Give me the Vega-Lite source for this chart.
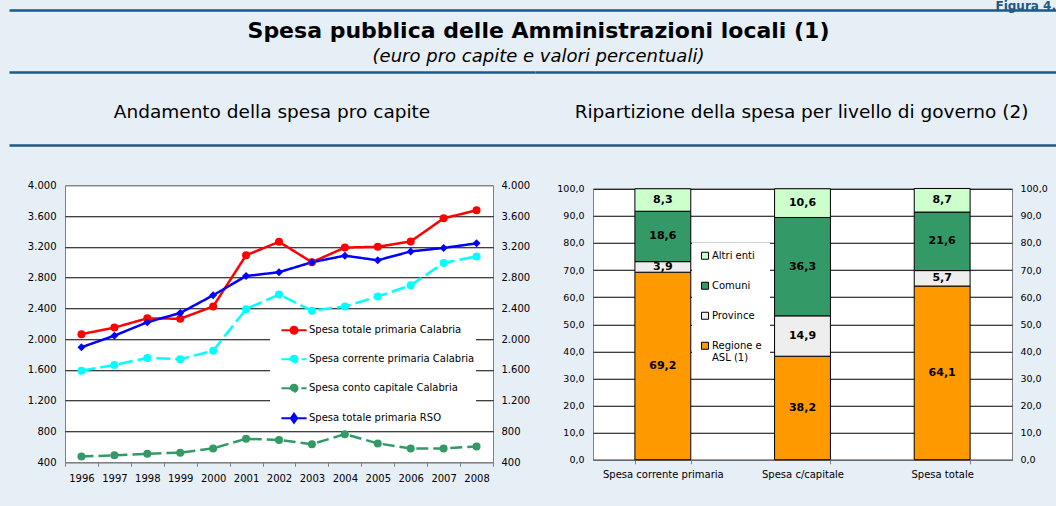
{
  "$schema": "https://vega.github.io/schema/vega-lite/v6.json",
  "background": "#E6EEF6",
  "padding": {"left": 9, "top": 0, "right": 0, "bottom": 35},
  "title": {"text": "Figura 4.", "anchor": "end", "fontSize": 12, "fontWeight": "bold", "color": "#1D5986", "offset": -3},
  "config": {
    "font": "DejaVu Sans",
    "view": {"stroke": null},
    "axis": {"labelFont": "DejaVu Sans", "labelColor": "#000000", "titleFont": "DejaVu Sans"},
    "legend": {"labelFont": "DejaVu Sans", "labelColor": "#000000"},
    "title": {"font": "DejaVu Sans", "subtitleFont": "DejaVu Sans", "color": "#000000", "subtitleColor": "#000000"},
    "text": {"font": "DejaVu Sans"},
    "locale": {"number": {"decimal": ",", "thousands": ".", "grouping": [3], "currency": ["€", ""]}}
  },
  "spacing": 28,
  "columns": 1,
  "align": "none",
  "concat": [
    {
      "spacing": 0,
      "vconcat": [
        {
          "width": 1047,
          "height": 62,
          "view": {"stroke": null, "fill": null},
          "data": {"values": [{}]},
          "mark": {"type": "text", "text": ""},
          "encoding": {
            "x": {"datum": 0, "type": "quantitative", "scale": {"domain": [0, 1]},
              "axis": {"orient": "top", "title": null, "labels": false, "ticks": false, "grid": false, "domainColor": "#1D5986", "domainWidth": 2.5, "minExtent": 0}}
          },
          "title": {
            "text": "Spesa pubblica delle Amministrazioni locali (1)",
            "subtitle": "(euro pro capite e valori percentuali)",
            "fontSize": 22, "fontWeight": "bold",
            "subtitleFontSize": 18, "subtitleFontStyle": "italic", "subtitlePadding": 5,
            "anchor": "middle", "offset": -57, "dx": 6
          }
        },
        {
          "spacing": 0,
          "hconcat": [
            {
              "width": 526,
              "height": 67,
              "view": {"stroke": null, "fill": null},
              "data": {"values": [{}]},
              "mark": {"type": "text", "text": ""},
              "encoding": {
                "x": {"datum": 0, "type": "quantitative", "scale": {"domain": [0, 1]},
                  "axis": {"orient": "top", "title": null, "labels": false, "ticks": false, "grid": false, "domainColor": "#1D5986", "domainWidth": 2.5, "minExtent": 0}}
              },
              "title": {"text": "Andamento della spesa pro capite", "fontSize": 18.5, "fontWeight": "normal", "anchor": "middle", "offset": -49}
            },
            {
              "width": 521,
              "height": 67,
              "view": {"stroke": null, "fill": null},
              "data": {"values": [{}]},
              "mark": {"type": "text", "text": ""},
              "encoding": {
                "x": {"datum": 0, "type": "quantitative", "scale": {"domain": [0, 1]},
                  "axis": {"orient": "top", "title": null, "labels": false, "ticks": false, "grid": false, "domainColor": "#1D5986", "domainWidth": 2.5, "minExtent": 0}}
              },
              "title": {"text": "Ripartizione della spesa per livello di governo (2)", "fontSize": 18.5, "fontWeight": "normal", "anchor": "middle", "offset": -49, "dx": 6}
            }
          ]
        },
        {
          "width": 1047,
          "height": 1,
          "view": {"stroke": null, "fill": null},
          "data": {"values": [{}]},
          "mark": {"type": "text", "text": ""},
          "encoding": {
            "x": {"datum": 0, "type": "quantitative", "scale": {"domain": [0, 1]},
              "axis": {"orient": "top", "title": null, "labels": false, "ticks": false, "grid": false, "domainColor": "#1D5986", "domainWidth": 2.5, "minExtent": 0}}
          }
        }
      ]
    },
    {
      "spacing": 0,
      "center": true,
      "resolve": {"scale": {"color": "independent"}, "legend": {"color": "independent"}},
      "hconcat": [
        {
          "width": 1,
          "height": 1,
          "view": {"stroke": null, "fill": null},
          "data": {"values": [{}]},
          "mark": {"type": "text", "text": ""}
        },
        {
          "width": 428,
          "height": 277,
          "view": {"fill": "#FFFFFF", "stroke": "#808080"},
          "data": {"values": [
            {"anno": "1996", "serie": "Spesa totale primaria Calabria", "valore": 2065},
            {"anno": "1997", "serie": "Spesa totale primaria Calabria", "valore": 2150},
            {"anno": "1998", "serie": "Spesa totale primaria Calabria", "valore": 2270},
            {"anno": "1999", "serie": "Spesa totale primaria Calabria", "valore": 2265},
            {"anno": "2000", "serie": "Spesa totale primaria Calabria", "valore": 2425},
            {"anno": "2001", "serie": "Spesa totale primaria Calabria", "valore": 3090},
            {"anno": "2002", "serie": "Spesa totale primaria Calabria", "valore": 3265},
            {"anno": "2003", "serie": "Spesa totale primaria Calabria", "valore": 3000},
            {"anno": "2004", "serie": "Spesa totale primaria Calabria", "valore": 3190},
            {"anno": "2005", "serie": "Spesa totale primaria Calabria", "valore": 3200},
            {"anno": "2006", "serie": "Spesa totale primaria Calabria", "valore": 3270},
            {"anno": "2007", "serie": "Spesa totale primaria Calabria", "valore": 3570},
            {"anno": "2008", "serie": "Spesa totale primaria Calabria", "valore": 3675},
            {"anno": "1996", "serie": "Spesa corrente primaria Calabria", "valore": 1590},
            {"anno": "1997", "serie": "Spesa corrente primaria Calabria", "valore": 1665},
            {"anno": "1998", "serie": "Spesa corrente primaria Calabria", "valore": 1755},
            {"anno": "1999", "serie": "Spesa corrente primaria Calabria", "valore": 1740},
            {"anno": "2000", "serie": "Spesa corrente primaria Calabria", "valore": 1850},
            {"anno": "2001", "serie": "Spesa corrente primaria Calabria", "valore": 2390},
            {"anno": "2002", "serie": "Spesa corrente primaria Calabria", "valore": 2580},
            {"anno": "2003", "serie": "Spesa corrente primaria Calabria", "valore": 2370},
            {"anno": "2004", "serie": "Spesa corrente primaria Calabria", "valore": 2425},
            {"anno": "2005", "serie": "Spesa corrente primaria Calabria", "valore": 2555},
            {"anno": "2006", "serie": "Spesa corrente primaria Calabria", "valore": 2700},
            {"anno": "2007", "serie": "Spesa corrente primaria Calabria", "valore": 2990},
            {"anno": "2008", "serie": "Spesa corrente primaria Calabria", "valore": 3075},
            {"anno": "1996", "serie": "Spesa conto capitale Calabria", "valore": 475},
            {"anno": "1997", "serie": "Spesa conto capitale Calabria", "valore": 490},
            {"anno": "1998", "serie": "Spesa conto capitale Calabria", "valore": 510},
            {"anno": "1999", "serie": "Spesa conto capitale Calabria", "valore": 525},
            {"anno": "2000", "serie": "Spesa conto capitale Calabria", "valore": 580},
            {"anno": "2001", "serie": "Spesa conto capitale Calabria", "valore": 705},
            {"anno": "2002", "serie": "Spesa conto capitale Calabria", "valore": 690},
            {"anno": "2003", "serie": "Spesa conto capitale Calabria", "valore": 635},
            {"anno": "2004", "serie": "Spesa conto capitale Calabria", "valore": 765},
            {"anno": "2005", "serie": "Spesa conto capitale Calabria", "valore": 645},
            {"anno": "2006", "serie": "Spesa conto capitale Calabria", "valore": 580},
            {"anno": "2007", "serie": "Spesa conto capitale Calabria", "valore": 580},
            {"anno": "2008", "serie": "Spesa conto capitale Calabria", "valore": 605},
            {"anno": "1996", "serie": "Spesa totale primaria RSO", "valore": 1895},
            {"anno": "1997", "serie": "Spesa totale primaria RSO", "valore": 2045},
            {"anno": "1998", "serie": "Spesa totale primaria RSO", "valore": 2220},
            {"anno": "1999", "serie": "Spesa totale primaria RSO", "valore": 2340},
            {"anno": "2000", "serie": "Spesa totale primaria RSO", "valore": 2570},
            {"anno": "2001", "serie": "Spesa totale primaria RSO", "valore": 2820},
            {"anno": "2002", "serie": "Spesa totale primaria RSO", "valore": 2870},
            {"anno": "2003", "serie": "Spesa totale primaria RSO", "valore": 3000},
            {"anno": "2004", "serie": "Spesa totale primaria RSO", "valore": 3085},
            {"anno": "2005", "serie": "Spesa totale primaria RSO", "valore": 3025},
            {"anno": "2006", "serie": "Spesa totale primaria RSO", "valore": 3140},
            {"anno": "2007", "serie": "Spesa totale primaria RSO", "valore": 3185},
            {"anno": "2008", "serie": "Spesa totale primaria RSO", "valore": 3245}
          ]},
          "layer": [
            {
              "mark": {"type": "line", "strokeWidth": 2.5},
              "encoding": {
                "x": {"field": "anno", "type": "ordinal",
                  "scale": {"type": "band", "paddingInner": 0, "paddingOuter": 0},
                  "axis": {"title": null, "labelAngle": 0, "tickBand": "extent", "tickColor": "#808080", "tickSize": 4, "domainColor": "#808080", "labelPadding": 7, "labelFontSize": 10, "grid": false}},
                "y": {"field": "valore", "type": "quantitative",
                  "scale": {"domain": [400, 4000], "nice": false, "zero": false},
                  "axis": {"title": null, "values": [400, 800, 1200, 1600, 2000, 2400, 2800, 3200, 3600, 4000], "format": ",d", "ticks": false, "domain": false, "labelPadding": 9, "labelFontSize": 10, "minExtent": 54,
                    "grid": true, "gridWidth": 1, "gridColor": {"condition": {"test": "datum.value === 4000 || datum.value === 400", "value": "#808080"}, "value": "#000000"}}},
                "color": {"field": "serie", "type": "nominal",
                  "scale": {"domain": ["Spesa totale primaria Calabria", "Spesa corrente primaria Calabria", "Spesa conto capitale Calabria", "Spesa totale primaria RSO"],
                    "range": ["#FF0000", "#00FFFF", "#339966", "#0000FF"]},
                  "legend": {
                    "title": null, "orient": "none", "legendX": 205, "legendY": 139,
                    "fillColor": "#FFFFFF", "padding": 1, "labelFontSize": 10, "labelLimit": 260,
                    "rowPadding": 13, "symbolSize": 49, "symbolStrokeWidth": 2, "symbolOffset": 18, "labelOffset": 10,
                    "symbolType": "M-3.6,0H3.6M-1,0A1,1 0 1 1 1,0A1,1 0 1 1 -1,0Z",
                    "encode": {"symbols": {"update": {
                      "shape": {"signal": "datum.value === 'Spesa totale primaria RSO' ? 'M-3.6,0H3.6M0,-1.3L0.9,0L0,1.3L-0.9,0Z' : 'M-3.6,0H3.6M-1,0A1,1 0 1 1 1,0A1,1 0 1 1 -1,0Z'"},
                      "fill": {"signal": "datum.value === 'Spesa totale primaria Calabria' ? '#FF0000' : datum.value === 'Spesa corrente primaria Calabria' ? '#00FFFF' : datum.value === 'Spesa conto capitale Calabria' ? '#339966' : '#0000FF'"},
                      "stroke": {"signal": "datum.value === 'Spesa totale primaria Calabria' ? '#FF0000' : datum.value === 'Spesa corrente primaria Calabria' ? '#00FFFF' : datum.value === 'Spesa conto capitale Calabria' ? '#339966' : '#0000FF'"},
                      "strokeDash": {"signal": "datum.value === 'Spesa corrente primaria Calabria' || datum.value === 'Spesa conto capitale Calabria' ? [16, 4] : [1, 0]"},
                      "strokeWidth": {"value": 2},
                      "opacity": {"value": 1}
                    }}}
                  }},
                "strokeDash": {"field": "serie", "type": "nominal",
                  "scale": {"domain": ["Spesa totale primaria Calabria", "Spesa corrente primaria Calabria", "Spesa conto capitale Calabria", "Spesa totale primaria RSO"],
                    "range": [[1, 0], [14, 5], [12, 5], [1, 0]]},
                  "legend": null}
              }
            },
            {
              "mark": {"type": "point", "filled": true, "size": 64, "opacity": 1},
              "encoding": {
                "x": {"field": "anno", "type": "ordinal"},
                "y": {"field": "valore", "type": "quantitative",
                  "scale": {"domain": [400, 4000], "nice": false, "zero": false},
                  "axis": {"orient": "right", "title": null, "values": [400, 800, 1200, 1600, 2000, 2400, 2800, 3200, 3600, 4000], "format": ",d", "ticks": false, "domain": false, "labelPadding": 8, "labelFontSize": 10, "minExtent": 61, "grid": false}},
                "color": {"field": "serie", "type": "nominal"},
                "shape": {"field": "serie", "type": "nominal",
                  "scale": {"domain": ["Spesa totale primaria Calabria", "Spesa corrente primaria Calabria", "Spesa conto capitale Calabria", "Spesa totale primaria RSO"],
                    "range": ["circle", "circle", "circle", "diamond"]},
                  "legend": null}
              }
            }
          ],
          "resolve": {"scale": {"y": "independent"}}
        },
        {
          "width": 419,
          "height": 271,
          "view": {"fill": "#FFFFFF", "stroke": "#808080"},
          "data": {"values": [
            {"voce": "Spesa corrente primaria", "ente": "Regione e ASL (1)", "ordine": 1, "quota": 69.2},
            {"voce": "Spesa corrente primaria", "ente": "Province", "ordine": 2, "quota": 3.9},
            {"voce": "Spesa corrente primaria", "ente": "Comuni", "ordine": 3, "quota": 18.6},
            {"voce": "Spesa corrente primaria", "ente": "Altri enti", "ordine": 4, "quota": 8.3},
            {"voce": "Spesa c/capitale", "ente": "Regione e ASL (1)", "ordine": 1, "quota": 38.2},
            {"voce": "Spesa c/capitale", "ente": "Province", "ordine": 2, "quota": 14.9},
            {"voce": "Spesa c/capitale", "ente": "Comuni", "ordine": 3, "quota": 36.3},
            {"voce": "Spesa c/capitale", "ente": "Altri enti", "ordine": 4, "quota": 10.6},
            {"voce": "Spesa totale", "ente": "Regione e ASL (1)", "ordine": 1, "quota": 64.1},
            {"voce": "Spesa totale", "ente": "Province", "ordine": 2, "quota": 5.7},
            {"voce": "Spesa totale", "ente": "Comuni", "ordine": 3, "quota": 21.6},
            {"voce": "Spesa totale", "ente": "Altri enti", "ordine": 4, "quota": 8.7}
          ]},
          "layer": [
            {
              "mark": {"type": "bar", "stroke": "#000000", "strokeWidth": 1},
              "encoding": {
                "x": {"field": "voce", "type": "nominal", "sort": ["Spesa corrente primaria", "Spesa c/capitale", "Spesa totale"],
                  "scale": {"paddingInner": 0.6, "paddingOuter": 0.3},
                  "axis": {"title": null, "labelAngle": 0, "tickBand": "extent", "tickColor": "#808080", "tickSize": 4, "domainColor": "#808080", "labelPadding": 6, "labelFontSize": 10, "grid": false}},
                "y": {"field": "quota", "type": "quantitative", "stack": "zero",
                  "scale": {"domain": [0, 100], "nice": false},
                  "axis": {"title": null, "values": [0, 10, 20, 30, 40, 50, 60, 70, 80, 90, 100], "format": ".1f", "ticks": false, "domain": false, "labelPadding": 9, "labelFontSize": 9.5, "minExtent": 37, "grid": true, "gridColor": "#000000", "gridWidth": 1}},
                "color": {"field": "ente", "type": "nominal",
                  "scale": {"domain": ["Altri enti", "Comuni", "Province", "Regione e ASL (1)"], "range": ["#CCFFCC", "#339966", "#EEEEEE", "#FF9900"]},
                  "legend": {"title": null, "orient": "none", "legendX": 99, "legendY": 54, "fillColor": "#FFFFFF", "padding": 8,
                    "symbolType": "square", "symbolSize": 49, "symbolStrokeColor": "#000000", "symbolStrokeWidth": 1,
                    "labelFontSize": 10, "rowPadding": 18, "labelOffset": 2,
                    "labelExpr": "datum.label === 'Regione e ASL (1)' ? ['Regione e', 'ASL (1)'] : datum.label"}},
                "order": {"field": "ordine", "type": "quantitative"}
              }
            },
            {
              "transform": [
                {"stack": "quota", "groupby": ["voce"], "sort": [{"field": "ordine"}], "as": ["q0", "q1"]},
                {"fold": ["q0", "q1"], "as": ["estremo", "posizione"]},
                {"aggregate": [{"op": "mean", "field": "posizione", "as": "centro"}], "groupby": ["voce", "ente", "quota"]}
              ],
              "mark": {"type": "text", "fontWeight": "bold", "fontSize": 11, "color": "#000000"},
              "encoding": {
                "x": {"field": "voce", "type": "nominal", "sort": ["Spesa corrente primaria", "Spesa c/capitale", "Spesa totale"]},
                "y": {"field": "centro", "type": "quantitative",
                  "scale": {"domain": [0, 100], "nice": false},
                  "axis": {"orient": "right", "title": null, "values": [0, 10, 20, 30, 40, 50, 60, 70, 80, 90, 100], "format": ".1f", "ticks": false, "domain": false, "labelPadding": 8, "labelFontSize": 9.5, "minExtent": 35, "grid": false}},
                "text": {"field": "quota", "type": "quantitative", "format": ".1f"}
              }
            }
          ],
          "resolve": {"scale": {"y": "independent"}}
        }
      ]
    }
  ]
}
